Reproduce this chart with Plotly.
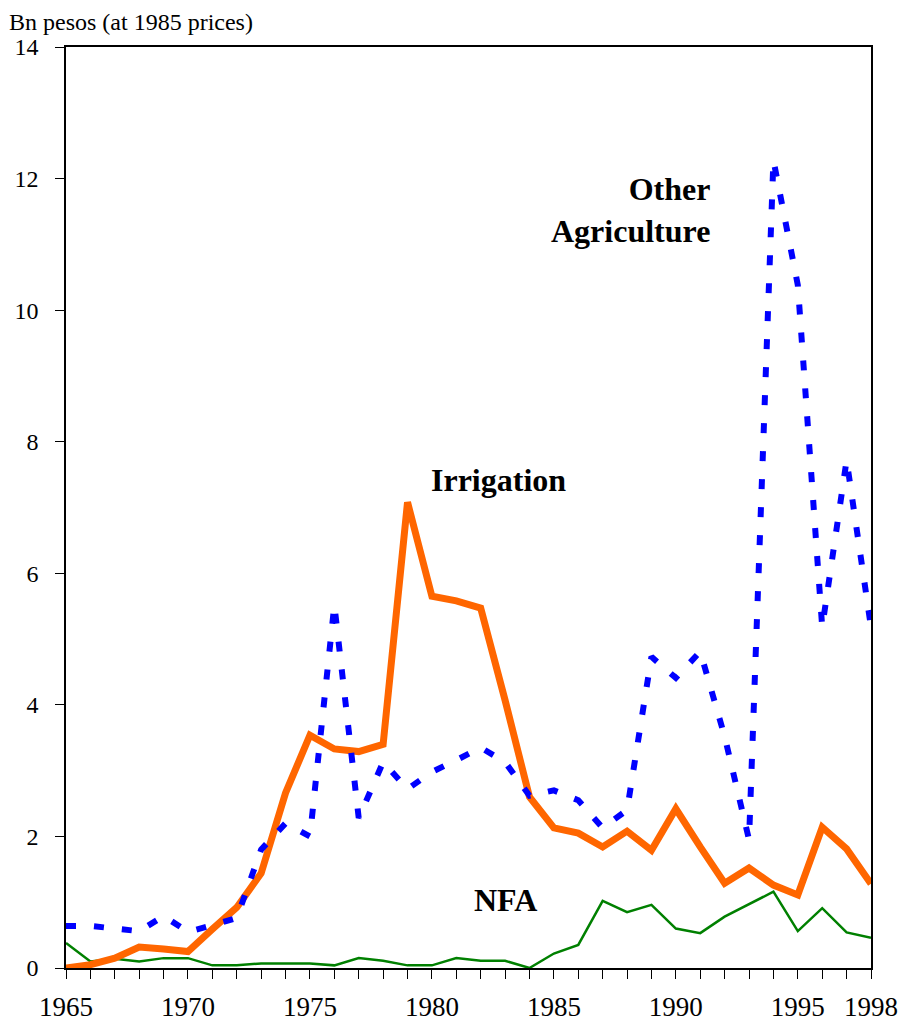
import plotly.graph_objects as go

years = list(range(1965, 1999))

irrigation = [0.00, 0.05, 0.15, 0.32, 0.29, 0.25, 0.59, 0.92, 1.44, 2.66,
              3.54, 3.33, 3.29, 3.40, 7.08, 5.65, 5.58, 5.47, 4.07, 2.60,
              2.13, 2.05, 1.84, 2.08, 1.79, 2.42, 1.84, 1.29, 1.52, 1.26,
              1.11, 2.14, 1.81, 1.28]

other_agri = [0.64, 0.64, 0.60, 0.56, 0.79, 0.55, 0.65, 0.76, 1.80, 2.20,
              2.00, 5.52, 2.28, 3.13, 2.72, 2.98, 3.16, 3.35, 3.13, 2.62,
              2.70, 2.55, 2.13, 2.40, 4.73, 4.41, 4.81, 3.52, 1.95, 12.28,
              10.38, 5.18, 7.72, 5.18]

nfa = [0.38, 0.10, 0.14, 0.10, 0.15, 0.15, 0.04, 0.04, 0.07, 0.07,
       0.07, 0.04, 0.15, 0.11, 0.04, 0.04, 0.15, 0.11, 0.11, 0.00,
       0.22, 0.35, 1.02, 0.85, 0.96, 0.60, 0.53, 0.78, 0.97, 1.16,
       0.56, 0.91, 0.54, 0.46]

x_label_years = [1965, 1970, 1975, 1980, 1985, 1990, 1995, 1998]
y_ticks = [0, 2, 4, 6, 8, 10, 12, 14]

FONT = "Liberation Serif, Times New Roman, serif"

fig = go.Figure()
fig.add_trace(go.Scatter(x=years, y=nfa, mode="lines", name="NFA",
                         line=dict(color="#008000", width=2.5)))
fig.add_trace(go.Scatter(x=years, y=irrigation, mode="lines", name="Irrigation",
                         line=dict(color="#FF6600", width=7)))
fig.add_trace(go.Scatter(x=years, y=other_agri, mode="lines", name="Other Agriculture",
                         line=dict(color="#0000FF", width=6, dash="10px,18px")))

# page body has an 8px margin, so the figure is offset by 8px
fig.update_layout(
    width=899, height=1015,
    margin=dict(l=58, r=36, t=39, b=55),
    paper_bgcolor="white", plot_bgcolor="white",
    showlegend=False,
    font=dict(family=FONT, size=25, color="black"),
)

fig.update_xaxes(
    range=[1965, 1998], automargin=False,
    tickmode="array", tickvals=years,
    ticktext=[str(y) if y in x_label_years else "" for y in years],
    ticks="outside", ticklen=9, tickwidth=1, tickcolor="black",
    showline=True, linecolor="black", linewidth=1.5, mirror=True,
    showgrid=False, zeroline=False,
    ticklabelstandoff=5,
    tickfont=dict(family=FONT, size=27),
)
fig.update_yaxes(
    range=[0, 14], automargin=False,
    tickmode="array", tickvals=y_ticks,
    ticktext=[str(v) for v in y_ticks],
    ticks="outside", ticklen=9, tickwidth=1, tickcolor="black",
    showline=True, linecolor="black", linewidth=1.5, mirror=True,
    showgrid=False, zeroline=False,
    ticklabelstandoff=12,
    tickfont=dict(family=FONT, size=24),
)

fig.add_annotation(text="Bn pesos (at 1985 prices)", xref="paper", yref="paper",
                   x=-58/805, y=1 + 39/921, xanchor="left", yanchor="top",
                   borderpad=0,
                   showarrow=False, font=dict(family=FONT, size=24))
fig.add_annotation(text="<b>Other</b><br><b>Agriculture</b>", x=1991.5, y=11.52,
                   xanchor="right", yanchor="middle", align="right",
                   showarrow=False, font=dict(family=FONT, size=32))
fig.add_annotation(text="<b>Irrigation</b>", x=1982.71, y=7.42,
                   xanchor="center", yanchor="middle",
                   showarrow=False, font=dict(family=FONT, size=32))
fig.add_annotation(text="<b>NFA</b>", x=1983.0, y=1.03,
                   xanchor="center", yanchor="middle",
                   showarrow=False, font=dict(family=FONT, size=32))

fig.write_html("out.html")
